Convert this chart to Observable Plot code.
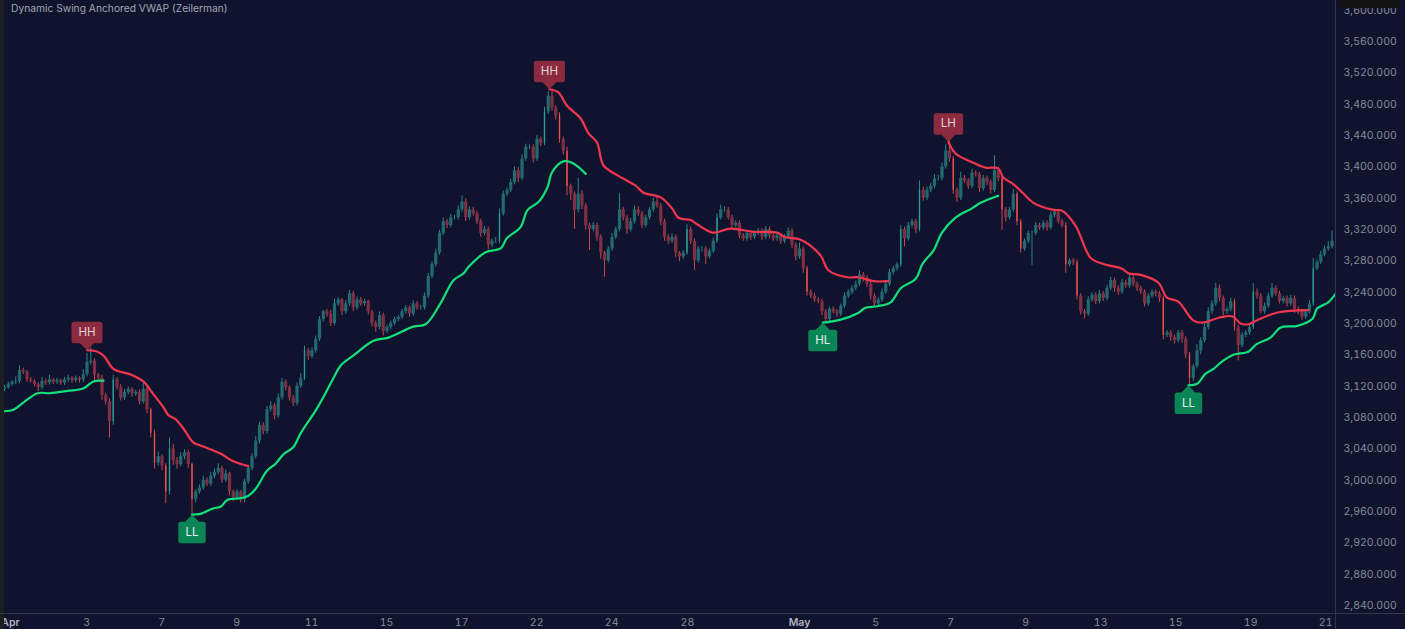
<!DOCTYPE html>
<html><head><meta charset="utf-8">
<script src="https://cdn.jsdelivr.net/npm/d3@7"></script>
<script src="https://cdn.jsdelivr.net/npm/@observablehq/plot@0.6"></script>
<style>
html,body{margin:0;padding:0;background:#10132d;overflow:hidden}
#wrap{position:relative;width:1405px;height:629px;overflow:hidden}
#title{position:absolute;left:11px;top:1px;font:10.25px Inter,sans-serif;color:#a4a6b2;line-height:14px;white-space:nowrap}
#strip{position:absolute;left:0;top:0;width:4px;height:629px;background:#1c1e20}
#vl{position:absolute;left:1335px;top:0;width:1px;height:629px;background:#33364d}
#hl{position:absolute;left:0;top:613px;width:1405px;height:1px;background:#33364d}
#tag{position:absolute;left:1339px;top:-4px;width:61px;height:12px;background:#141414;border-radius:2px}
svg{display:block}
</style></head><body>
<div id="wrap"><div id="chart"></div><div id="strip"></div><div id="vl"></div><div id="hl"></div><div id="tag"></div>
<div id="title">Dynamic Swing Anchored VWAP (Zeilerman)</div></div>
<script>
const closes=[3118,3122,3125,3126,3140,3138,3128,3126,3122,3118,
3126,3124,3128,3125,3127,3124,3128,3130,3127,3130,
3128,3135,3150,3152,3134,3130,3108,3100,3075,3128,
3118,3105,3112,3116,3110,3112,3100,3116,3090,3060,
3022,3030,3018,2985,3040,3025,3020,3030,3035,3020,
2975,2985,2990,3000,2995,3005,3010,3015,3000,3008,
2985,2978,2985,2975,2998,3015,3030,3050,3070,3062,
3090,3095,3082,3105,3125,3118,3105,3098,3120,3130,
3165,3158,3165,3180,3205,3215,3212,3200,3225,3230,
3215,3225,3238,3220,3230,3225,3228,3215,3200,3195,
3210,3190,3195,3200,3205,3208,3215,3220,3212,3225,
3220,3220,3235,3260,3275,3290,3315,3330,3325,3335,
3335,3345,3355,3335,3345,3340,3330,3315,3320,3300,
3305,3305,3340,3365,3370,3380,3395,3385,3410,3425,
3425,3410,3435,3430,3470,3490,3475,3465,3435,3420,
3375,3365,3345,3365,3350,3325,3320,3325,3310,3290,
3280,3295,3310,3320,3345,3335,3320,3330,3345,3340,
3325,3335,3345,3355,3350,3330,3310,3305,3310,3290,
3285,3290,3320,3305,3280,3295,3295,3285,3292,3305,
3335,3345,3345,3335,3325,3328,3312,3308,3315,3310,
3315,3318,3310,3320,3312,3308,3312,3305,3310,3318,
3300,3285,3295,3270,3240,3235,3230,3228,3215,3205,
3218,3215,3212,3222,3235,3240,3245,3250,3262,3258,
3250,3235,3225,3230,3240,3250,3265,3270,3275,3320,
3308,3325,3330,3320,3370,3360,3370,3375,3385,3385,
3400,3420,3410,3370,3360,3385,3382,3375,3392,3390,
3372,3385,3380,3370,3395,3385,3345,3335,3345,3365,
3330,3295,3305,3315,3315,3325,3322,3328,3322,3338,
3342,3330,3325,3275,3280,3278,3235,3215,3212,3230,
3236,3228,3238,3232,3245,3255,3245,3240,3252,3248,
3258,3250,3245,3240,3225,3235,3240,3238,3232,3185,
3188,3182,3178,3188,3180,3160,3130,3145,3165,3178,
3195,3215,3225,3245,3232,3215,3218,3228,3195,3172,
3185,3188,3195,3240,3235,3215,3222,3235,3245,3238,
3228,3232,3225,3232,3218,3215,3208,3215,3225,3270,
3278,3288,3295,3298,3305];
const wickUp=[3,3,2,6,6,3,2,3,2,2, 5,3,6,2,3,2,3,4,2,3, 2,6,12,17,3,2,4,3,4,6, 3,4,4,3,2,3,3,8,3,2,
4,6,2,3,14,6,4,5,4,3, 2,3,4,5,3,5,4,6,3,5, 2,2,3,2,3,4,4,6,4,3, 4,5,3,5,5,3,2,3,4,6,
6,3,4,4,4,2,3,5,6,3, 2,4,4,3,4,3,3,2,2,3, 5,3,3,3,3,2,3,3,2,4, 3,3,4,4,3,5,4,5,3,4,
3,5,8,4,4,3,3,3,4,3, 3,5,6,4,3,4,5,4,5,4, 3,3,5,3,6,6,6,3,4,3, 5,3,3,20,5,3,3,4,3,3,
2,3,5,3,21,3,3,4,5,4, 3,3,3,5,6,3,3,3,4,3, 2,3,6,3,3,3,3,3,3,4, 5,6,4,3,3,3,3,3,3,3,
3,3,3,4,3,3,3,3,3,4, 3,3,8,3,3,3,3,3,3,3, 3,3,3,3,4,3,3,4,5,3, 3,3,3,3,4,5,4,3,3,5,
3,4,3,3,12,4,4,4,5,4, 5,8,14,3,3,8,4,3,5,3, 3,4,3,3,19,4,3,3,3,6, 3,3,3,3,3,4,3,3,3,4,
4,3,3,4,3,3,3,3,3,4, 3,3,4,3,4,4,3,3,4,3, 4,3,3,3,3,3,3,3,3,3, 3,3,3,3,3,3,3,3,8,4,
4,5,4,6,4,3,3,4,3,3, 3,3,3,11,4,3,4,4,6,3, 3,3,3,4,3,3,3,3,4,13, 3,4,4,6,13];
const wickDown=[3,2,2,3,3,3,3,2,3,5, 3,3,3,3,3,3,3,3,3,3, 4,3,3,3,8,3,6,4,21,5, 3,4,3,3,4,3,4,3,5,6,
8,4,6,15,4,6,6,3,4,5, 18,4,3,3,3,3,3,3,4,3, 5,5,3,4,4,3,3,3,4,4, 3,3,5,3,3,4,4,4,3,3,
3,5,3,3,3,3,4,4,3,3, 5,3,3,5,3,3,3,4,4,6, 3,6,3,3,3,3,3,3,4,3, 3,3,3,3,3,3,3,3,4,3,
3,3,3,5,3,3,4,5,3,6, 3,3,3,3,3,3,3,5,3,3, 3,5,3,4,3,3,4,5,5,5, 12,8,25,4,5,6,27,3,5,8,
21,3,3,3,3,4,6,3,3,3, 4,3,3,3,3,5,5,4,3,6, 6,3,3,4,12,3,4,10,3,3, 3,3,3,3,4,3,4,3,3,4,
3,3,4,3,4,3,3,4,3,3, 4,5,3,6,5,3,3,3,5,4, 3,3,4,3,3,3,3,3,3,5, 4,5,4,3,3,3,3,3,3,3,
10,3,3,5,3,4,3,3,3,3, 3,3,4,5,5,3,3,4,3,3, 5,3,4,5,3,4,26,5,3,3, 5,5,3,3,41,3,3,3,4,3,
3,3,3,11,3,4,5,4,6,3, 3,4,3,4,3,3,5,4,3,3, 3,3,4,3,4,3,3,4,5,6, 3,5,4,3,5,5,10,4,3,5,
3,3,3,3,4,5,3,3,5,20, 3,3,3,3,4,3,3,3,3,3, 3,3,4,3,5,4,4,3,3,3, 3,3,3,3,3];
const green1Bar=[0,2.4,5,8.8,12.3,16.8,21,23.7,26.4];
const green1Px=[3088,3090,3099,3111,3111,3114,3117,3126,3127];
const red1Bar=[22,24.8,26.4,28.8,30.4,33,37,39.5,42.4,43.7,45.6,47.7,50.4,53,57.6,61,65];
const red1Px=[3166,3164,3159,3143,3139,3136,3126,3111,3093,3083,3078,3066,3048,3043,3034,3024,3018];
const green2Bar=[50,52.3,55.7,57.6,59.5,63,65,67,70,72.3,74.4,77,79,83,85.6,87.7,89.6,93,98.4,102.4,109,112.3,116.3,119.7,122.4,123.7,128.3,132.3,134,137.6,139.5,142.4,144.8,146,149,151.5,155];
const green2Px=[2956,2957,2964,2966,2975,2977,2980,2989,3012,3021,3033,3042,3060,3089,3111,3130,3146,3159,3178,3182,3196,3199,3226,3255,3264,3272,3291,3296,3309,3323,3345,3355,3374,3393,3407,3405,3391];
const red2Bar=[145.3,147.7,150,153.6,155.7,158,159.7,163.5,168.3,170.4,175,178,179.7,183,184.3,188.8,193.6,199.7,206,208.3,212.3,217.6,219.7,224.8,227.7,231.7,235.7];
const red2Px=[3499,3495,3478,3462,3443,3431,3402,3389,3376,3367,3361,3347,3335,3332,3328,3316,3321,3317,3316,3310,3307,3287,3268,3259,3259,3254,3254];
const green3Bar=[218.2,223,227.5,229.6,232.8,236.3,239,243,244.8,247.7,250,253.6,258,260.3,265];
const green3Px=[3201,3205,3213,3220,3222,3227,3245,3257,3276,3293,3316,3335,3347,3354,3363];
const red3Bar=[251.7,253.6,258.4,261.6,265,266.4,269,271.7,274.4,279.7,282,285.6,289.6,293,298,299.7,303,307.7,310,313,317,319.5,324.3,327.5,329.6,331.7,334,339.5,347.7];
const red3Px=[3432,3417,3405,3399,3398,3386,3378,3366,3354,3345,3344,3325,3284,3276,3270,3264,3262,3252,3233,3228,3204,3201,3208,3209,3200,3199,3204,3214,3217];
const green4Bar=[315.7,318,320.3,322.4,324.3,327.7,331.7,334,337.6,340.3,344.8,348.8,350,353,355];
const green4Px=[3121,3123,3136,3142,3150,3160,3164,3174,3182,3195,3197,3206,3219,3227,3238];
const pivotHigh=[{x:22,y:3166,t:"HH"},{x:145.3,y:3499,t:"HH"},{x:251.7,y:3432,t:"LH"}];
const pivotLow=[{x:50,y:2956,t:"LL"},{x:218.2,y:3201,t:"HL"},{x:315.7,y:3121,t:"LL"}];
const dayTickBars=[21.9,41.9,61.9,81.9,101.9,121.9,141.9,161.9,182.1,232.3,252.3,272.3,292.3,312.3,332.3,352.3];
const dayTickLabels=["3","7","9","11","15","17","22","24","28","5","7","9","13","15","19","21"];
const monthTickBars=[1.6,212];
const monthTickLabels=["Apr","May"];
const priceTicks=d3.range(2840,3601,40);

const bars=closes.map((c,i)=>{const o=i?closes[i-1]:c-2;return{i,o,c,h:Math.max(o,c)+wickUp[i],l:Math.min(o,c)-wickDown[i],up:c>=o,tall:Math.abs(c-o)>=30}});
const line=(xs,ys)=>xs.map((x,k)=>({x,y:ys[k]}));
const box=(w,dir)=>({draw(ctx){
  const h=w/2,r=2.5,p=7,t=dir*p,b=dir*(p+21.5);
  const a=dir>0?1:-1;
  ctx.moveTo(0,0);ctx.lineTo(7*a,t);
  ctx.lineTo(h*a-r*a,t);ctx.quadraticCurveTo(h*a,t,h*a,t+r*dir);
  ctx.lineTo(h*a,b-r*dir);ctx.quadraticCurveTo(h*a,b,h*a-r*a,b);
  ctx.lineTo(-h*a+r*a,b);ctx.quadraticCurveTo(-h*a,b,-h*a,b-r*dir);
  ctx.lineTo(-h*a,t+r*dir);ctx.quadraticCurveTo(-h*a,t,-h*a+r*a,t);
  ctx.lineTo(-7*a,t);ctx.closePath();
}});
const RED="#f23650",GREEN="#12e07a",LBLR="#8c2a3f",LBLG="#0a8555",TXT="#878a98";
const curve="catmull-rom";
const chart=Plot.plot({
  width:1405,height:629,marginLeft:4,marginRight:70,marginTop:0,marginBottom:16,
  style:{background:"#10132d",fontFamily:"Inter, sans-serif",fontSize:"10.5px",overflow:"hidden"},
  x:{domain:[0,354.93],range:[4,1335],axis:null},
  y:{domain:[2829.8,3612.3],range:[613,0],axis:null},
  marks:[
    Plot.ruleX(bars,{x:"i",y1:"l",y2:"h",strokeWidth:1,stroke:d=>d.up?"#2a9d96":"#e8504f",strokeOpacity:.85}),
    Plot.ruleX(bars,{x:"i",y1:"o",y2:"c",strokeWidth:d=>d.tall?1.4:3.2,stroke:d=>d.tall?(d.up?"#2a9d96":"#e8504f"):(d.up?"#226a6e":"#803045")}),
    ...[[green1Bar,green1Px,GREEN],[red1Bar,red1Px,RED],[green2Bar,green2Px,GREEN],[red2Bar,red2Px,RED],[green3Bar,green3Px,GREEN],[red3Bar,red3Px,RED],[green4Bar,green4Px,GREEN]]
      .map(([a,b,s])=>Plot.line(line(a,b),{x:"x",y:"y",stroke:s,strokeWidth:2.2,curve,clip:true})),
    ...pivotHigh.map(d=>Plot.dot([d],{x:"x",y:"y",fill:LBLR,stroke:"none",symbol:box(d.t==="HH"?31:29.5,-1)})),
    ...pivotLow.map(d=>Plot.dot([d],{x:"x",y:"y",fill:LBLG,stroke:"none",symbol:box(d.t==="LL"?27.5:29,1)})),
    Plot.text(pivotHigh,{x:"x",y:"y",text:"t",dy:-18,fill:"#e6d6da",fontSize:11.5}),
    Plot.text(pivotLow,{x:"x",y:"y",text:"t",dy:18,fill:"#e8f2ee",fontSize:11.5}),
    Plot.axisY(priceTicks,{anchor:"right",tickSize:0,tickPadding:8,label:null,color:TXT,fontSize:10.5,tickFormat:d=>d3.format(",.3f")(d)}),
    Plot.axisX(dayTickBars,{anchor:"bottom",tickSize:0,tickPadding:5.5,label:null,color:TXT,fontSize:10.5,tickFormat:d=>dayTickLabels[dayTickBars.indexOf(d)]}),
    Plot.axisX(monthTickBars,{anchor:"bottom",tickSize:0,tickPadding:5.5,label:null,color:"#b0b2bd",fontSize:10.5,fontWeight:600,tickFormat:d=>monthTickLabels[monthTickBars.indexOf(d)]})
  ]
});
document.getElementById("chart").append(chart);
</script></body></html>
